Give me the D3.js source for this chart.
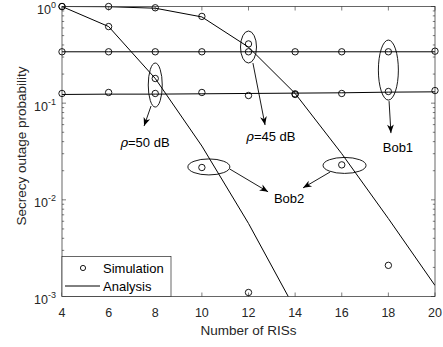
<!DOCTYPE html>
<html>
<head>
<meta charset="utf-8">
<script src="https://cdn.jsdelivr.net/npm/d3@7"></script>
<style>
	body { margin: 0; background: #fff; }
	text { font-family: 'Liberation Sans', Arial, sans-serif; fill: #000; }
</style>
</head>
<body>
<div class="chart"></div>
<script>
	// 데이터
	const risCounts = [4, 6, 8, 10, 12, 14, 16, 18, 20];
	const xTicks = [4, 6, 8, 10, 12, 14, 16, 18, 20];
	const yTickExps = [0, -1, -2, -3];

	// analysis curves
	const bob1Rho45Ana = [0.34, 0.34, 0.34, 0.34, 0.34, 0.34, 0.34, 0.34, 0.34];
	const bob1Rho50Ana = [0.123, 0.124, 0.124, 0.125, 0.126, 0.127, 0.128, 0.13, 0.131];
	const bob2Rho45Ana = [1.0, 0.995, 0.96, 0.78, 0.38, 0.126, 0.03, 0.0064, 0.0013];
	const bob2Rho50Ana = [1.0, 0.62, 0.18, 0.036, 0.0057, 0.00074, null, null, null];

	// simulation points
	const bob1Rho45Sim = [0.34, 0.34, 0.34, 0.34, 0.34, 0.34, 0.34, 0.34, 0.345];
	const bob1Rho50Sim = [0.126, 0.129, 0.126, 0.129, 0.12, 0.123, 0.126, 0.132, 0.135];
	const bob2Rho45Sim = [1.0, 1.0, 0.97, 0.79, 0.41, 0.125, 0.023, 0.0021, null];
	const bob2Rho50Sim = [1.0, 0.62, 0.18, 0.0216, 0.0011, null, null, null, null];

	// annotations (data coordinates)
	const ellipses = [
		{ x: 8, y: 0.154, rx: 7, ry: 22 },
		{ x: 12, y: 0.381, rx: 8, ry: 16 },
		{ x: 18, y: 0.22, rx: 10, ry: 30 },
		{ x: 10.3, y: 0.0219, rx: 21, ry: 8 },
		{ x: 16.12, y: 0.0227, rx: 21.5, ry: 8 }
	];
	const arrows = [
		{ x1: 7.82, y1: 0.0935, x2: 7.52, y2: 0.058 },
		{ x1: 12.19, y1: 0.26, x2: 12.71, y2: 0.0594 },
		{ x1: 18.03, y1: 0.105, x2: 18.11, y2: 0.049 },
		{ x1: 11.2, y1: 0.0208, x2: 12.84, y2: 0.0121 },
		{ x1: 15.5, y1: 0.0194, x2: 14.34, y2: 0.0133 }
	];
	const labels = [
		{ x: 7.56, y: 0.0352, rho: true, text: '=50 dB' },
		{ x: 12.96, y: 0.0406, rho: true, text: '=45 dB' },
		{ x: 18.41, y: 0.0313, rho: false, text: 'Bob1' },
		{ x: 13.74, y: 0.00927, rho: false, text: 'Bob2' }
	];

	const width = 443;
	const height = 347;
	const margin = { top: 6.5, right: 8, bottom: 50.5, left: 62 };
	const innerW = width - margin.left - margin.right;
	const innerH = height - margin.top - margin.bottom;
	const tickFont = '12.5px';
	const labelFont = '13.5px';

	const svg = d3.select('.chart').append('svg').attr('width', width).attr('height', height);
	const g = svg.append('g').attr('transform', `translate(${margin.left},${margin.top})`);

	const x = d3.scaleLinear().domain([4, 20]).range([0, innerW]);
	const y = d3.scaleLog().domain([1e-3, 1]).range([innerH, 0]);

	svg.append('defs')
		.append('clipPath')
		.attr('id', 'clip')
		.append('rect')
		.attr('width', innerW)
		.attr('height', innerH);

	svg.select('defs')
		.append('marker')
		.attr('id', 'head')
		.attr('viewBox', '-10 -5 12 10')
		.attr('refX', 0)
		.attr('refY', 0)
		.attr('markerWidth', 12)
		.attr('markerHeight', 10)
		.attr('markerUnits', 'userSpaceOnUse')
		.attr('orient', 'auto')
		.append('path')
		.attr('d', 'M0,0 L-8.5,-3.4 L-6,0 L-8.5,3.4 Z')
		.attr('fill', '#000');

	// ticks (inward, both sides)
	const tickColor = '#262626';
	const minorTicks = [];
	for (let e = -3; e < 0; e++) {
		for (let m = 2; m <= 9; m++) minorTicks.push(m * Math.pow(10, e));
	}
	const ticks = g.append('g');
	xTicks.forEach(t => {
		ticks.append('line').attr('x1', x(t)).attr('x2', x(t)).attr('y1', innerH).attr('y2', innerH - 4).attr('stroke', tickColor).attr('stroke-width', 0.6);
		ticks.append('line').attr('x1', x(t)).attr('x2', x(t)).attr('y1', 0).attr('y2', 4).attr('stroke', tickColor).attr('stroke-width', 0.6);
	});
	yTickExps.forEach(e => {
		const v = Math.pow(10, e);
		ticks.append('line').attr('x1', 0).attr('x2', 4).attr('y1', y(v)).attr('y2', y(v)).attr('stroke', tickColor).attr('stroke-width', 0.6);
		ticks.append('line').attr('x1', innerW).attr('x2', innerW - 4).attr('y1', y(v)).attr('y2', y(v)).attr('stroke', tickColor).attr('stroke-width', 0.6);
	});
	minorTicks.forEach(v => {
		ticks.append('line').attr('x1', 0).attr('x2', 2.2).attr('y1', y(v)).attr('y2', y(v)).attr('stroke', tickColor).attr('stroke-width', 0.6);
		ticks.append('line').attr('x1', innerW).attr('x2', innerW - 2.2).attr('y1', y(v)).attr('y2', y(v)).attr('stroke', tickColor).attr('stroke-width', 0.6);
	});

	// tick labels
	g.selectAll('.xlab')
		.data(xTicks)
		.enter()
		.append('text')
		.attr('x', d => x(d))
		.attr('y', innerH + 20)
		.attr('text-anchor', 'middle')
		.style('font-size', tickFont)
		.style('fill', '#262626')
		.text(d => d);

	const ylab = g.selectAll('.ylab')
		.data(yTickExps)
		.enter()
		.append('text')
		.attr('x', -6)
		.attr('y', d => y(Math.pow(10, d)) + 7.5)
		.attr('text-anchor', 'end')
		.style('font-size', tickFont)
		.style('fill', '#262626')
		.text('10');
	ylab.append('tspan')
		.attr('dy', -6)
		.style('font-size', '9px')
		.text(d => d);

	// axis titles
	svg.append('text')
		.attr('x', margin.left + innerW / 2)
		.attr('y', height - 12)
		.attr('text-anchor', 'middle')
		.style('font-size', labelFont)
		.style('fill', '#262626')
		.text('Number of RISs');
	svg.append('text')
		.attr('transform', `translate(25.5,146) rotate(-90)`)
		.attr('text-anchor', 'middle')
		.style('font-size', labelFont)
		.style('fill', '#262626')
		.text('Secrecy outage probability');

	// analysis lines
	const line = d3.line()
		.defined(d => d[1] !== null)
		.x(d => x(d[0]))
		.y(d => y(d[1]));
	const anaSeries = [bob1Rho45Ana, bob1Rho50Ana, bob2Rho45Ana, bob2Rho50Ana];
	g.append('g')
		.attr('clip-path', 'url(#clip)')
		.selectAll('path')
		.data(anaSeries)
		.enter()
		.append('path')
		.attr('d', s => line(risCounts.map((r, i) => [r, s[i]])))
		.attr('fill', 'none')
		.attr('stroke', '#000')
		.attr('stroke-width', 1);

	// simulation markers
	const simSeries = [bob1Rho45Sim, bob1Rho50Sim, bob2Rho45Sim, bob2Rho50Sim];
	const simPts = [];
	simSeries.forEach(s => {
		risCounts.forEach((r, i) => {
			if (s[i] !== null && s[i] >= 1e-3) simPts.push([r, s[i]]);
		});
	});
	g.append('g')
		.selectAll('circle')
		.data(simPts)
		.enter()
		.append('circle')
		.attr('cx', d => x(d[0]))
		.attr('cy', d => y(d[1]))
		.attr('r', 3.2)
		.attr('fill', 'none')
		.attr('stroke', '#000')
		.attr('stroke-width', 0.9);

	// box
	g.append('rect')
		.attr('width', innerW)
		.attr('height', innerH)
		.attr('fill', 'none')
		.attr('stroke', tickColor)
		.attr('stroke-width', 0.7);

	// annotations
	const ann = g.append('g');
	ann.selectAll('ellipse')
		.data(ellipses)
		.enter()
		.append('ellipse')
		.attr('cx', d => x(d.x))
		.attr('cy', d => y(d.y))
		.attr('rx', d => d.rx)
		.attr('ry', d => d.ry)
		.attr('fill', 'none')
		.attr('stroke', '#000')
		.attr('stroke-width', 0.9);
	ann.selectAll('.arrow')
		.data(arrows)
		.enter()
		.append('line')
		.attr('x1', d => x(d.x1))
		.attr('y1', d => y(d.y1))
		.attr('x2', d => x(d.x2))
		.attr('y2', d => y(d.y2))
		.attr('stroke', '#000')
		.attr('stroke-width', 0.9)
		.attr('marker-end', 'url(#head)');
	const lab = ann.selectAll('.lab')
		.data(labels)
		.enter()
		.append('text')
		.attr('x', d => x(d.x))
		.attr('y', d => y(d.y))
		.attr('text-anchor', 'middle')
		.style('font-size', '13px');
	lab.filter(d => d.rho)
		.append('tspan')
		.style('font-family', "'DejaVu Serif', serif")
		.style('font-style', 'italic')
		.text('ρ');
	lab.append('tspan').text(d => d.text);

	// legend
	const lg = g.append('g').attr('transform', `translate(0,${innerH - 40})`);
	lg.append('rect')
		.attr('width', 109)
		.attr('height', 40)
		.attr('fill', '#fff')
		.attr('stroke', tickColor)
		.attr('stroke-width', 0.7);
	lg.append('circle').attr('cx', 21).attr('cy', 11.5).attr('r', 2.6).attr('fill', 'none').attr('stroke', '#000').attr('stroke-width', 0.9);
	lg.append('text').attr('x', 41).attr('y', 16).style('font-size', '13px').text('Simulation');
	lg.append('line').attr('x1', 3).attr('x2', 38).attr('y1', 29.5).attr('y2', 29.5).attr('stroke', '#000').attr('stroke-width', 1);
	lg.append('text').attr('x', 41).attr('y', 34).style('font-size', '13px').text('Analysis');
</script>
</body>
</html>
